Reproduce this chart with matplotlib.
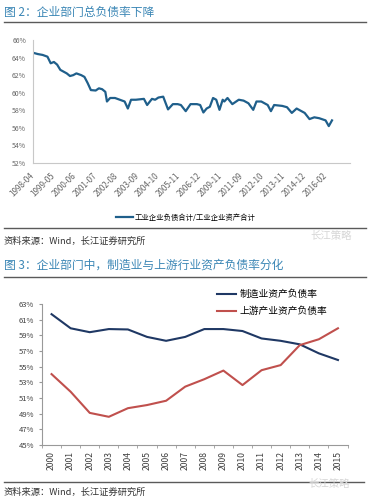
import matplotlib
matplotlib.use("Agg")
import matplotlib.pyplot as plt

plt.rcParams['font.family'] = ['Noto Sans CJK SC', 'DejaVu Sans']

# ---- 图2 数据（月度序号, 负债率 %）----
idx1 = [0, 3, 6, 9, 11, 13, 15, 17, 19, 21, 23, 25, 27, 30, 32, 34, 36, 39, 41, 43,
        45, 46, 48, 51, 54, 57, 59, 61, 64, 69, 71, 74, 76, 78, 81, 84, 87, 90, 92, 95,
        98, 102, 104, 106, 108, 110, 112, 114, 116, 118, 119, 121, 124, 128, 131, 134,
        137, 139, 142, 146, 148, 150, 155, 158, 161, 164, 166, 169, 172, 175, 178, 182,
        184, 186]
ratio1 = [64.55, 64.4, 64.3, 64.1, 63.35, 63.5, 63.2, 62.6, 62.4, 62.2, 61.9, 62.0, 62.2,
          62.0, 61.8, 61.1, 60.3, 60.25, 60.5, 60.4, 60.1, 59.0, 59.4, 59.4, 59.2, 59.0,
          58.2, 59.2, 59.2, 59.3, 58.6, 59.3, 59.2, 59.45, 59.55, 58.1, 58.7, 58.7, 58.6,
          57.9, 58.7, 58.7, 58.6, 57.75, 58.2, 58.4, 59.4, 59.2, 58.05, 59.2, 59.0, 59.4,
          58.7, 59.2, 59.1, 58.8, 58.05, 59.0, 59.0, 58.6, 57.9, 58.6, 58.5, 58.35, 57.7,
          58.2, 58.0, 57.7, 57.0, 57.2, 57.1, 56.85, 56.2, 56.85]
tick_labels1 = ["1998-04", "1999-05", "2000-06", "2001-07", "2002-08", "2003-09",
                "2004-10", "2005-11", "2006-12", "2009-11", "2011-09", "2012-10",
                "2013-11", "2014-12", "2016-02"]
yticks1 = [52, 54, 56, 58, 60, 62, 64, 66]

# ---- 图3 数据 ----
years = ["2000", "2001", "2002", "2003", "2004", "2005", "2006", "2007",
         "2008", "2009", "2010", "2011", "2012", "2013", "2014", "2015"]
manuf = [61.7, 59.9, 59.4, 59.8, 59.75, 58.8, 58.3, 58.8,
         59.8, 59.8, 59.55, 58.6, 58.3, 57.85, 56.7, 55.85]
upstream = [54.05, 51.8, 49.1, 48.6, 49.7, 50.1, 50.65, 52.45,
            53.4, 54.5, 52.65, 54.55, 55.2, 57.75, 58.5, 59.9]
yticks2 = [45, 47, 49, 51, 53, 55, 57, 59, 61, 63]

W, H = 388, 499
fig = plt.figure(figsize=(W / 100, H / 100), dpi=100)

def fx(px):
    return px / W

def fy(py):
    return 1 - py / H

title_color = "#3A86B5"
line_gray = "#5a5a5a"

# ===== 图2 =====
fig.text(fx(4), fy(12), "图 2：企业部门总负债率下降", fontsize=8.5, color=title_color,
         va="center", ha="left")
fig.add_artist(plt.Line2D([fx(4), fx(366)], [fy(22), fy(22)], color=line_gray, lw=1.0))

ax1 = fig.add_axes([fx(33), fy(163), fx(317), 123 / H])
ax1.plot(idx1, ratio1, color="#1F5F8B", lw=1.6, label="工业企业负债合计/工业企业资产合计")
ax1.set_xlim(0, 186 * 317 / 299)
ax1.set_ylim(52, 66)
ax1.set_yticks(yticks1)
ax1.set_yticklabels([f"{v}%" for v in yticks1], fontsize=5, color="#666666")
ax1.set_xticks([i * 13 for i in range(len(tick_labels1))])
ax1.set_xticklabels(tick_labels1, fontsize=5.8, color="#666666", rotation=45,
                    ha="right", va="center", rotation_mode="anchor")
ax1.tick_params(axis="both", length=0)
ax1.tick_params(axis="x", pad=8)
ax1.tick_params(axis="y", pad=5)
for s in ["top", "right"]:
    ax1.spines[s].set_visible(False)
ax1.spines["left"].set_color("#c8c8c8")
ax1.spines["bottom"].set_color("#c8c8c8")
ax1.spines["left"].set_linewidth(0.8)
ax1.spines["bottom"].set_linewidth(0.8)

fig.legend(*ax1.get_legend_handles_labels(), loc="center",
           bbox_to_anchor=(fx(186), fy(218)), frameon=False, fontsize=5.3,
           handlelength=2.2, handletextpad=0.3, borderaxespad=0)

fig.add_artist(plt.Line2D([fx(4), fx(366)], [fy(228), fy(228)], color=line_gray, lw=1.0))
fig.text(fx(310), fy(236), "长江策略", fontsize=7.5, color="#d6d6d6", va="center")
fig.text(fx(4), fy(241), "资料来源：Wind，长江证券研究所", fontsize=6.7, color="#333333",
         va="center")

# ===== 图3 =====
fig.text(fx(4), fy(265), "图 3：企业部门中，制造业与上游行业资产负债率分化", fontsize=8.5,
         color=title_color, va="center", ha="left")
fig.add_artist(plt.Line2D([fx(4), fx(366)], [fy(277), fy(277)], color=line_gray, lw=1.0))

ax2 = fig.add_axes([fx(42), fy(445), fx(305.5), 141 / H])
x2 = range(len(years))
ax2.plot(x2, manuf, color="#1F3864", lw=1.5, label="制造业资产负债率")
ax2.plot(x2, upstream, color="#C0504D", lw=1.5, label="上游产业资产负债率")
ax2.set_xlim(-0.5, len(years) - 0.5)
ax2.set_ylim(45, 63)
ax2.set_yticks(yticks2)
ax2.set_yticklabels([f"{v}%" for v in yticks2], fontsize=5.5, color="#404040")
ax2.set_xticks(list(x2))
ax2.set_xticklabels(years, fontsize=6.2, color="#404040", rotation=90)
ax2.set_xticks([i - 0.5 for i in range(len(years) + 1)], minor=True)
ax2.tick_params(axis="x", which="major", length=0, pad=4)
ax2.tick_params(axis="x", which="minor", length=2.5, color="#999999")
ax2.tick_params(axis="y", length=2.5, color="#999999", pad=3)
for s in ["top", "right"]:
    ax2.spines[s].set_visible(False)
ax2.spines["left"].set_color("#999999")
ax2.spines["bottom"].set_color("#999999")
ax2.spines["left"].set_linewidth(0.8)
ax2.spines["bottom"].set_linewidth(0.8)

fig.legend(*ax2.get_legend_handles_labels(), loc="upper left",
           bbox_to_anchor=(fx(217), fy(289)), frameon=False, fontsize=7,
           handlelength=2.0, handletextpad=0.3, labelspacing=0.75, borderaxespad=0,
           borderpad=0)

fig.add_artist(plt.Line2D([fx(4), fx(364)], [fy(482), fy(482)], color=line_gray, lw=1.0))
fig.text(fx(308), fy(484), "长江策略", fontsize=7.5, color="#d6d6d6", va="center")
fig.text(fx(4), fy(492), "资料来源：Wind，长江证券研究所", fontsize=6.7, color="#333333",
         va="center")

fig.savefig("out.png", dpi=100)
